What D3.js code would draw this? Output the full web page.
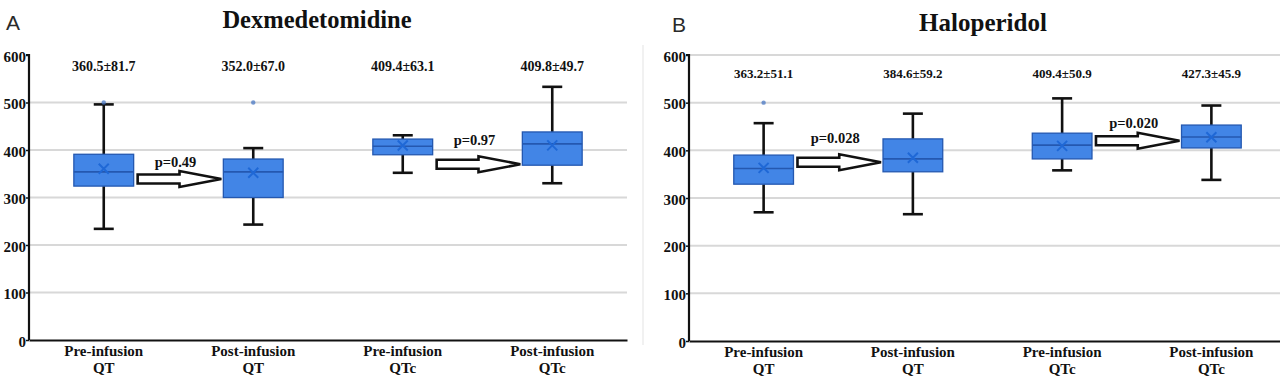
<!DOCTYPE html>
<html>
<head>
<meta charset="utf-8">
<script src="https://cdn.jsdelivr.net/npm/d3@7"></script>
<style>
  body { margin: 0; background: #fff; }
  svg { display: block; }
  text { font-family: "Liberation Serif", "Times New Roman", serif; font-weight: bold; fill: #111; }
</style>
</head>
<body>
<svg id="chart" width="1280" height="379"></svg>
<script>
// ---------- data ----------
const categoryLine1 = ["Pre-infusion", "Post-infusion", "Pre-infusion", "Post-infusion"];
const categoryLine2 = ["QT", "QT", "QTc", "QTc"];
const yTicks = [0, 100, 200, 300, 400, 500, 600];

// Dexmedetomidine (panel A)
const dexMin    = [234, 243, 352, 330];
const dexQ1     = [324, 300, 390, 368];
const dexMedian = [354, 354, 408, 413];
const dexQ3     = [391, 381, 423, 438];
const dexMax    = [496, 404, 431, 533];
const dexMean   = [360.5, 352.0, 409.4, 409.8];
const dexOutliers = [[500], [500], [], []];
const dexLabels = ["360.5±81.7", "352.0±67.0", "409.4±63.1", "409.8±49.7"];
const dexPValues = ["p=0.49", "p=0.97"];
const dexArrowAt = [339, 370];      // value level of each comparison arrow
const dexPLabelAt = [364, 410];     // value level of each p-value label

// Haloperidol (panel B)
const halMin    = [270, 266, 358, 338];
const halQ1     = [329, 355, 382, 405];
const halMedian = [362, 382, 411, 428];
const halQ3     = [390, 424, 436, 453];
const halMax    = [457, 477, 509, 494];
const halMean   = [363.2, 384.6, 409.4, 427.3];
const halOutliers = [[500], [], [], []];
const halLabels = ["363.2±51.1", "384.6±59.2", "409.4±50.9", "427.3±45.9"];
const halPValues = ["p=0.028", "p=0.020"];
const halArrowAt = [375, 420];
const halPLabelAt = [415, 447];

// ---------- drawing ----------
const svg = d3.select("#chart");
const BOX_FILL = "#4285e6", BOX_STROKE = "#2458b0", MEAN_COL = "#1f68d6";

function drawPanel(o) {
  const g = svg.append("g");
  const x = d3.scaleBand().domain(d3.range(4)).range([o.x0, o.x1]).paddingInner(0).paddingOuter(0);
  const y = d3.scaleLinear().domain([0, 600]).range([o.yBottom, o.yTop]);
  const bw = x.bandwidth() * 0.4;
  const cx = i => x(i) + x.bandwidth() / 2;

  // panel letter and title
  g.append("text").attr("x", o.letterX).attr("y", o.letterY).text(o.letter)
    .style("font-family", "'Liberation Sans', Arial, sans-serif").style("font-weight", "normal")
    .style("font-size", "21px").style("fill", "#2a2a2a");
  g.append("text").attr("x", o.titleX).attr("y", o.titleY).attr("text-anchor", "middle")
    .style("font-size", o.titleSize + "px").text(o.title);

  // gridlines
  g.append("g").selectAll("line").data(o.gridTicks).join("line")
    .attr("x1", o.x0 + 1).attr("x2", o.gridEnd)
    .attr("y1", d => y(d)).attr("y2", d => y(d))
    .attr("stroke", "#d8d8d8").attr("stroke-width", 2);

  // y axis
  const ya = g.append("g").attr("transform", `translate(${o.x0},0)`)
    .call(d3.axisLeft(y).tickValues(yTicks).tickSize(3).tickPadding(0).tickFormat(d3.format("d")));
  ya.select(".domain").attr("stroke", "#111").attr("stroke-width", 2.2).attr("d", `M-3,${y(600)}H0V${y(0)}`);
  ya.selectAll(".tick line").attr("stroke", "#111").attr("stroke-width", 1.5);
  ya.selectAll(".tick text").style("font-size", "15px").style("font-family", "'Liberation Serif', serif")
    .style("font-weight", "bold").attr("fill", "#111").attr("dy", "0.4em");

  // x axis
  const xa = g.append("g").attr("transform", `translate(0,${o.yBottom})`)
    .call(d3.axisBottom(x).tickSize(0).tickFormat(""));
  xa.select(".domain").attr("stroke", "#111").attr("stroke-width", 2.2);
  const labs = g.append("g").selectAll("text").data(d3.range(4)).join("text")
    .attr("text-anchor", "middle").style("font-size", "15px");
  labs.append("tspan").attr("x", cx).attr("y", o.yBottom + 16).text(i => categoryLine1[i]);
  labs.append("tspan").attr("x", cx).attr("y", o.yBottom + 33).text(i => categoryLine2[i]);

  // whiskers
  const idx = d3.range(4);
  const wg = g.append("g").attr("stroke", "#111").attr("stroke-width", 2.6).attr("fill", "none");
  wg.selectAll(".wt").data(idx).join("line")
    .attr("x1", cx).attr("x2", cx).attr("y1", i => y(o.q3[i])).attr("y2", i => y(o.max[i]));
  wg.selectAll(".wb").data(idx).join("line").attr("class", "wb")
    .attr("x1", cx).attr("x2", cx).attr("y1", i => y(o.q1[i])).attr("y2", i => y(o.min[i]));
  const capW = 20;
  wg.selectAll(".ct").data(idx).join("line").attr("class", "ct")
    .attr("x1", i => cx(i) - capW / 2).attr("x2", i => cx(i) + capW / 2)
    .attr("y1", i => y(o.max[i])).attr("y2", i => y(o.max[i]));
  wg.selectAll(".cb").data(idx).join("line").attr("class", "cb")
    .attr("x1", i => cx(i) - capW / 2).attr("x2", i => cx(i) + capW / 2)
    .attr("y1", i => y(o.min[i])).attr("y2", i => y(o.min[i]));

  // boxes
  g.append("g").selectAll("rect").data(idx).join("rect")
    .attr("x", i => cx(i) - bw / 2).attr("width", bw)
    .attr("y", i => y(o.q3[i])).attr("height", i => y(o.q1[i]) - y(o.q3[i]))
    .attr("fill", BOX_FILL).attr("stroke", BOX_STROKE).attr("stroke-width", 1.3);
  // medians
  g.append("g").selectAll("line").data(idx).join("line")
    .attr("x1", i => cx(i) - bw / 2).attr("x2", i => cx(i) + bw / 2)
    .attr("y1", i => y(o.median[i])).attr("y2", i => y(o.median[i]))
    .attr("stroke", BOX_STROKE).attr("stroke-width", 1.6);
  // mean markers (X)
  const ms = 5;
  g.append("g").selectAll("path").data(idx).join("path")
    .attr("d", i => {
      const px = cx(i), py = y(o.mean[i]);
      return `M${px - ms},${py - ms}L${px + ms},${py + ms}M${px - ms},${py + ms}L${px + ms},${py - ms}`;
    })
    .attr("stroke", MEAN_COL).attr("stroke-width", 2).attr("fill", "none");
  // outliers
  const outs = [];
  o.outliers.forEach((arr, i) => arr.forEach(v => outs.push({ i, v })));
  g.append("g").selectAll("circle").data(outs).join("circle")
    .attr("cx", d => cx(d.i)).attr("cy", d => y(d.v)).attr("r", 2.2)
    .attr("fill", "#4a78c4").attr("opacity", 0.75);

  // mean±SD labels
  g.append("g").selectAll("text").data(idx).join("text")
    .attr("x", cx).attr("y", o.labelY).attr("text-anchor", "middle")
    .style("font-size", o.labelSize + "px").text(i => o.labels[i]);

  // comparison arrows (hollow block arrows) between boxes 0→1 and 2→3
  const pairs = [[0, 1], [2, 3]];
  pairs.forEach(([a, b], k) => {
    const xs = cx(a) + bw / 2 + 4, xe = cx(b) - bw / 2 - 2;
    const yc = y(o.arrowAt[k]);
    const headLen = (xe - xs) * 0.5, sh = 4.5, hh = 8;
    const hx = xe - headLen;
    const pts = [[xs, yc - sh], [hx, yc - sh], [hx, yc - hh], [xe, yc], [hx, yc + hh], [hx, yc + sh], [xs, yc + sh]];
    g.append("path").attr("d", d3.line()(pts) + "Z")
      .attr("fill", "#fff").attr("stroke", "#111").attr("stroke-width", 2.6).attr("stroke-linejoin", "miter");
    g.append("text").attr("x", (xs + xe) / 2 - 4).attr("y", y(o.pLabelAt[k]))
      .attr("text-anchor", "middle").style("font-size", "14.5px").text(o.pValues[k]);
  });
}

// faint separator of panel B
svg.append("line").attr("x1", 643).attr("x2", 643).attr("y1", 45).attr("y2", 345)
  .attr("stroke", "#ececec").attr("stroke-width", 1.5);

drawPanel({
  letter: "A", letterX: 6, letterY: 30,
  title: "Dexmedetomidine", titleX: 317, titleY: 28, titleSize: 24.5,
  x0: 29, x1: 627, gridEnd: 627, yTop: 55, yBottom: 340,
  gridTicks: [100, 200, 300, 400, 500],
  min: dexMin, q1: dexQ1, median: dexMedian, q3: dexQ3, max: dexMax, mean: dexMean,
  outliers: dexOutliers, labels: dexLabels, labelY: 71, labelSize: 14,
  pValues: dexPValues, arrowAt: dexArrowAt, pLabelAt: dexPLabelAt
});

drawPanel({
  letter: "B", letterX: 672, letterY: 32,
  title: "Haloperidol", titleX: 983, titleY: 31, titleSize: 25,
  x0: 689, x1: 1286, gridEnd: 1280, yTop: 55, yBottom: 341,
  gridTicks: [100, 200, 300, 400, 500, 600],
  min: halMin, q1: halQ1, median: halMedian, q3: halQ3, max: halMax, mean: halMean,
  outliers: halOutliers, labels: halLabels, labelY: 78, labelSize: 13,
  pValues: halPValues, arrowAt: halArrowAt, pLabelAt: halPLabelAt
});
</script>
</body>
</html>
